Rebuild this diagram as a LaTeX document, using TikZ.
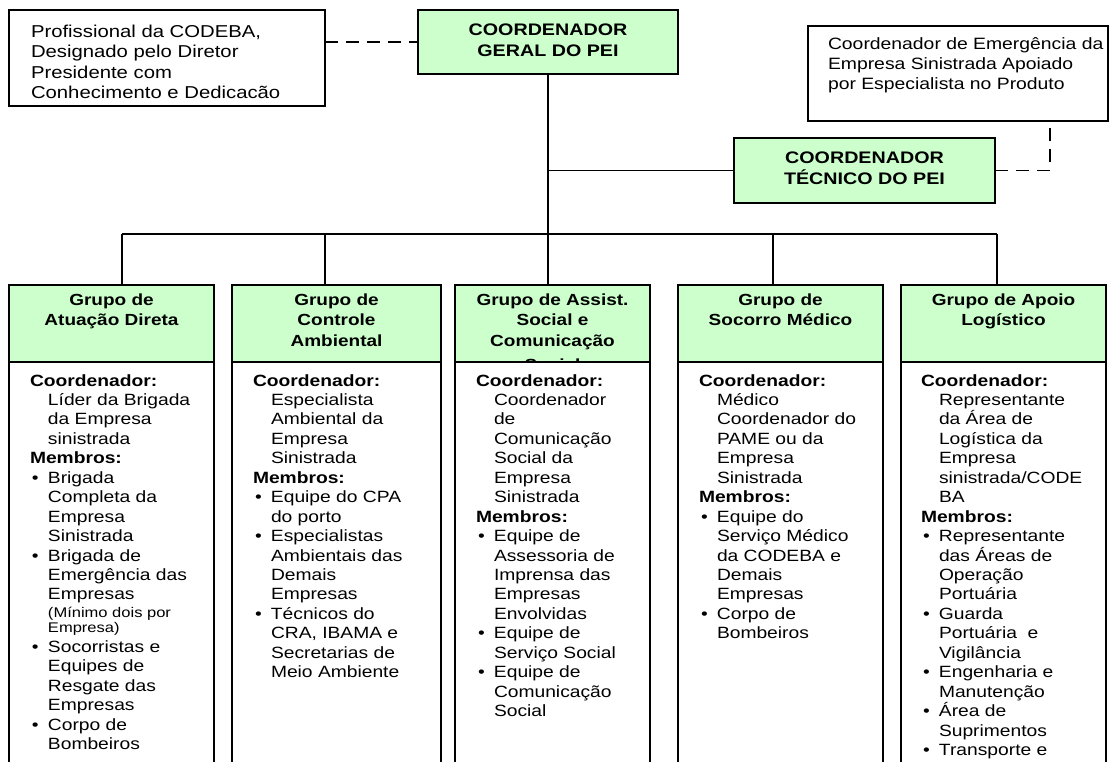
\documentclass[tikz,border=0pt]{standalone}
\usepackage{fontspec}
\setmainfont{Liberation Sans}[FakeStretch=1.18]
\definecolor{grn}{HTML}{CCFFCC}
\newcommand\Hx[1]{\noindent\textbf{#1}\par}
\newcommand\Lx[1]{\noindent\hspace*{18pt}#1\par}
\newcommand\Bx[1]{\noindent\makebox[18pt][l]{\hspace*{2pt}\textbullet}#1\par}
\newcommand\Sx[2]{{\fontsize{14}{#1}\selectfont\noindent\hspace*{18pt}#2\par}}
\newcommand\bodyfont{\fontsize{16.3}{19.45}\selectfont\lineskiplimit=-100pt\lineskip=0pt}
\newcommand\hdrfont{\fontsize{16.1}{20.5}\selectfont\bfseries\lineskiplimit=-100pt\lineskip=0pt}
\begin{document}
\begin{tikzpicture}[x=1pt,y=-1pt,
  every node/.style={inner sep=0pt, outer sep=0pt},
  wbox/.style={draw, fill=white, line width=1.5pt},
  gbox/.style={draw, fill=grn, line width=1.5pt},
  conn/.style={line width=1.3pt},
  dconn/.style={line width=1.3pt, dash pattern=on 13pt off 8pt}]
\useasboundingbox (0,0) rectangle (1113,762);
\fill[white] (0,0) rectangle (1113,762);

% top boxes
\node[wbox, minimum width=316pt, minimum height=96pt] (tl) at (167,58) {};
\node[gbox, minimum width=260pt, minimum height=64pt] (geral) at (548,42) {};
\node[gbox, minimum width=261pt, minimum height=65pt] (tec) at (864.5,170.5) {};
\node[wbox, minimum width=300pt, minimum height=95pt] (rb) at (958,73.5) {};
\coordinate (rbc) at ([xshift=242pt]rb.south west);

\node[anchor=base west] (tlt) at (31,37.5) {\parbox[t]{290pt}{\fontsize{17.2}{20.5}\selectfont Profissional da CODEBA,\\Designado pelo Diretor\\Presidente com\\Conhecimento e Dedicacão}};
\node[anchor=base] (geralt) at (548,36) {\parbox[t]{250pt}{\centering\fontsize{16.7}{20.5}\selectfont\bfseries COORDENADOR\\GERAL DO PEI}};
\node[anchor=base] (tect) at (864.5,164) {\parbox[t]{250pt}{\centering\fontsize{16.7}{20.5}\selectfont\bfseries COORDENADOR\\TÉCNICO DO PEI}};
\node[anchor=base west] (rbt) at (828,50) {\parbox[t]{280pt}{\fontsize{16.4}{19.8}\selectfont Coordenador de Emergência da\\Empresa Sinistrada Apoiado\\por Especialista no Produto}};

% group headers
\node[gbox, minimum width=205pt, minimum height=77pt] (h1) at (111.5,323.5) {};
\node[gbox, minimum width=209pt, minimum height=77pt] (h2) at (336.5,323.5) {};
\node[gbox, minimum width=195pt, minimum height=77pt] (h3) at (552.5,323.5) {};
\node[gbox, minimum width=205pt, minimum height=77pt] (h4) at (780.5,323.5) {};
\node[gbox, minimum width=205pt, minimum height=77pt] (h5) at (1003.5,323.5) {};

\node[anchor=base] (h1t) at (111.5,305) {\parbox[t]{200pt}{\centering\hdrfont Grupo de\\Atuação Direta}};
\node[anchor=base] (h2t) at (336.5,305) {\parbox[t]{200pt}{\centering\hdrfont Grupo de\\Controle\\Ambiental}};
\node[anchor=base] (h3t) at (552.5,305) {\parbox[t]{190pt}{\centering\hdrfont Grupo de Assist.\\Social e\\Comunicação\\[4pt]Social}};
\node[anchor=base] (h4t) at (780.5,305) {\parbox[t]{200pt}{\centering\hdrfont Grupo de\\Socorro Médico}};
\node[anchor=base] (h5t) at (1003.5,305) {\parbox[t]{200pt}{\centering\hdrfont Grupo de Apoio\\Logístico}};

% bodies
\node[wbox, minimum width=205pt, minimum height=438pt] (b1) at (111.5,581) {};
\node[wbox, minimum width=209pt, minimum height=438pt] (b2) at (336.5,581) {};
\node[wbox, minimum width=195pt, minimum height=438pt] (b3) at (552.5,581) {};
\node[wbox, minimum width=205pt, minimum height=438pt] (b4) at (780.5,581) {};
\node[wbox, minimum width=205pt, minimum height=438pt] (b5) at (1003.5,581) {};

\node[anchor=base west] (b1t) at (30,386) {\parbox[t]{250pt}{\bodyfont
\Hx{Coordenador:}
\Lx{Líder da Brigada}
\Lx{da Empresa}
\Lx{sinistrada}
\Hx{Membros:}
\Bx{Brigada}
\Lx{Completa da}
\Lx{Empresa}
\Lx{Sinistrada}
\Bx{Brigada de}
\Lx{Emergência das}
\Lx{Empresas}
\Sx{18}{(Mínimo dois por}
\Sx{15}{Empresa)}
\Bx{Socorristas e}
\Lx{Equipes de}
\Lx{Resgate das}
\Lx{Empresas}
\Bx{Corpo de}
\Lx{Bombeiros}}};

\node[anchor=base west] (b2t) at (253,386) {\parbox[t]{250pt}{\bodyfont
\Hx{Coordenador:}
\Lx{Especialista}
\Lx{Ambiental da}
\Lx{Empresa}
\Lx{Sinistrada}
\Hx{Membros:}
\Bx{Equipe do CPA}
\Lx{do porto}
\Bx{Especialistas}
\Lx{Ambientais das}
\Lx{Demais}
\Lx{Empresas}
\Bx{Técnicos do}
\Lx{CRA, IBAMA e}
\Lx{Secretarias de}
\Lx{Meio Ambiente}}};

\node[anchor=base west] (b3t) at (476,386) {\parbox[t]{250pt}{\bodyfont
\Hx{Coordenador:}
\Lx{Coordenador}
\Lx{de}
\Lx{Comunicação}
\Lx{Social da}
\Lx{Empresa}
\Lx{Sinistrada}
\Hx{Membros:}
\Bx{Equipe de}
\Lx{Assessoria de}
\Lx{Imprensa das}
\Lx{Empresas}
\Lx{Envolvidas}
\Bx{Equipe de}
\Lx{Serviço Social}
\Bx{Equipe de}
\Lx{Comunicação}
\Lx{Social}}};

\node[anchor=base west] (b4t) at (699,386) {\parbox[t]{250pt}{\bodyfont
\Hx{Coordenador:}
\Lx{Médico}
\Lx{Coordenador do}
\Lx{PAME ou da}
\Lx{Empresa}
\Lx{Sinistrada}
\Hx{Membros:}
\Bx{Equipe do}
\Lx{Serviço Médico}
\Lx{da CODEBA e}
\Lx{Demais}
\Lx{Empresas}
\Bx{Corpo de}
\Lx{Bombeiros}}};

\node[anchor=base west] (b5t) at (921,386) {\parbox[t]{250pt}{\bodyfont
\Hx{Coordenador:}
\Lx{Representante}
\Lx{da Área de}
\Lx{Logística da}
\Lx{Empresa}
\Lx{sinistrada/CODE}
\Lx{BA}
\Hx{Membros:}
\Bx{Representante}
\Lx{das Áreas de}
\Lx{Operação}
\Lx{Portuária}
\Bx{Guarda}
\Lx{Portuária\ \ e}
\Lx{Vigilância}
\Bx{Engenharia e}
\Lx{Manutenção}
\Bx{Área de}
\Lx{Suprimentos}
\Bx{Transporte e}}};

% connectors
\coordinate (d1) at (122,234);
\coordinate (d2) at (325,234);
\coordinate (d4) at (773,234);
\coordinate (d5) at (997,234);
\draw[dconn] (tl.east |- geral.west) -- (geral.west);
\draw[conn] (geral.south) -- (geral.south |- d1);
\draw[conn] (geral.south |- tec.west) -- (tec.west);
\draw[dconn] (tec.east) -| (rbc);
\draw[conn] (d1) -- (d5);
\draw[conn] (d1) -- (d1 |- h1.north);
\draw[conn] (d2) -- (d2 |- h2.north);
\draw[conn] (geral.south |- d1) -- (geral.south |- h3.north);
\draw[conn] (d4) -- (d4 |- h4.north);
\draw[conn] (d5) -- (d5 |- h5.north);
\end{tikzpicture}
\end{document}
